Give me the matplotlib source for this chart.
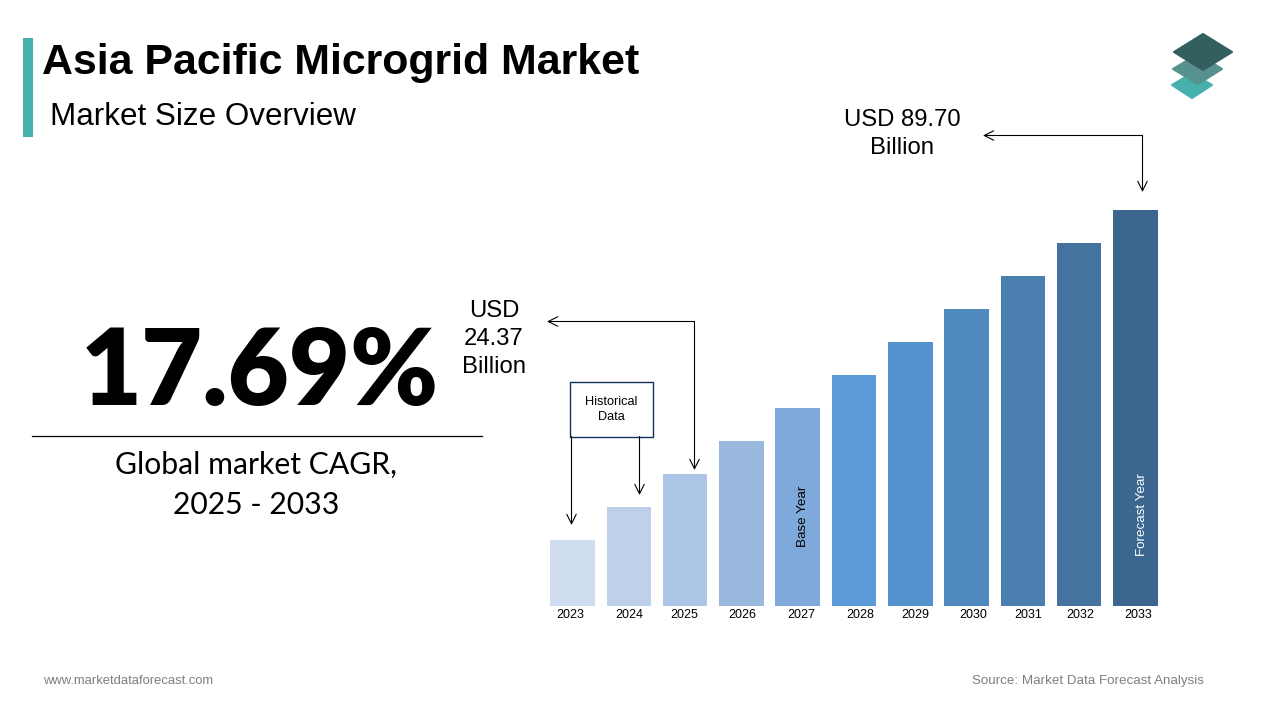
#!/usr/bin/env python3
import matplotlib
matplotlib.use('Agg')
import matplotlib.pyplot as plt
from matplotlib.patches import Polygon, Rectangle

years = ['2023', '2024', '2025', '2026', '2027', '2028', '2029', '2030', '2031', '2032', '2033']
# bar heights as drawn in the picture, scaled so that 2033 = 89.70
values = [14.95, 22.43, 29.90, 37.38, 44.85, 52.33, 59.80, 67.28, 74.75, 82.23, 89.70]
colors = ['#d0dcef', '#bed0ea', '#adc5e5', '#9ab9df', '#7fa9da', '#5b9bd8',
          '#5592ce', '#4f89bd', '#4a7fb0', '#44739f', '#3a6690']

W, H = 1280, 720
TEAL = '#46b0ac'
SANS = 'Liberation Sans'
LATO = 'Lato'

fig = plt.figure(figsize=(W / 100, H / 100), dpi=100)

# overlay in pixel coordinates for the slide furniture
bg = fig.add_axes([0, 0, 1, 1])
bg.set_xlim(0, W)
bg.set_ylim(H, 0)
bg.axis('off')
bg.set_zorder(2)

# bar axes: bar 0 centred on x=572.5, bar 10 on x=1135.5, baseline y=606, top y=210
ax = fig.add_axes([572.5 / W - 0.5 * 56.3 / W, (H - 606) / H, 11 * 56.3 / W, 396 / H])
ax.set_xlim(-0.5, 10.5)
ax.set_ylim(0, 89.7)
ax.axis('off')
ax.bar(range(len(years)), values, width=0.79, color=colors)
bg.text(803, 516, 'Base Year', rotation=90, ha='center', va='center', fontsize=9.6,
        family=SANS, color='black')
bg.text(1142, 515, 'Forecast Year', rotation=90, ha='center', va='center', fontsize=9.6,
        family=SANS, color='white')

# year labels sit slightly off the bar centres in the original
label_x = [570, 629, 684, 742, 801, 860, 915, 973, 1028, 1080, 1138]
for x, y in zip(label_x, years):
    bg.text(x, 615, y, ha='center', va='center', fontsize=9, family=SANS)

# title block
bg.add_patch(Rectangle((23, 38), 10, 99, color=TEAL, lw=0))
bg.text(42, 63, 'Asia Pacific Microgrid Market', fontsize=30.9, fontweight='bold',
        family=SANS, va='center', ha='left')
bg.text(50, 117, 'Market Size Overview', fontsize=22.6, family=SANS, va='center', ha='left')

# CAGR block
bg.text(260, 374, '17.69%', fontsize=76, fontweight='heavy', family=LATO, ha='center', va='center')
bg.plot([32, 482], [436, 436], color='black', lw=0.9)
bg.text(256, 465, 'Global market CAGR,', fontsize=21.7, family=LATO, ha='center', va='center')
bg.text(256, 505, '2025 - 2033', fontsize=21.7, family=LATO, ha='center', va='center')

# value callouts
bg.text(902, 134, 'USD 89.70\nBillion', fontsize=17.2, family=SANS, ha='center', va='center',
        linespacing=1.38)
bg.text(494, 339, 'USD\n24.37\nBillion', fontsize=17.2, family=SANS, ha='center', va='center',
        linespacing=1.38)


def arrow(x0, y0, x1, y1):
    bg.annotate('', xy=(x1, y1), xytext=(x0, y0),
                arrowprops=dict(arrowstyle='->', color='black', lw=0.8,
                                mutation_scale=17, shrinkA=0, shrinkB=0))


arrow(1142.5, 135.5, 983, 135.5)
arrow(1142.5, 135.5, 1142.5, 192)
arrow(694.5, 321.5, 547, 321.5)
arrow(694.5, 321.5, 694.5, 470)

# historical data box
bg.add_patch(Rectangle((570, 382), 82.5, 54.5, facecolor='white', edgecolor='#14325c', lw=1))
bg.text(611, 409.5, 'Historical\nData', fontsize=9.2, family=SANS, ha='center', va='center',
        linespacing=1.4)
arrow(571.5, 436.5, 571.5, 525)
arrow(639.5, 436.5, 639.5, 495)

# logo
layers = [
    ([(1192, 73), (1212, 85), (1192, 98), (1172, 85)], TEAL),
    ([(1198, 54), (1222, 69), (1198, 84), (1173, 69)], '#56908f'),
    ([(1203, 34), (1232, 52), (1203, 70), (1174, 52)], '#33605f'),
]
for pts, c in layers:
    bg.add_patch(Polygon(pts, closed=True, facecolor=c, edgecolor=c, lw=1.5, joinstyle='round'))

# footer
bg.text(43, 681, 'www.marketdataforecast.com', fontsize=9.4, family=SANS, color='#7f7f7f',
        ha='left', va='center')
bg.text(1204, 681, 'Source: Market Data Forecast Analysis', fontsize=9.65, family=SANS,
        color='#7f7f7f', ha='right', va='center')

fig.savefig('out.png', dpi=100)
